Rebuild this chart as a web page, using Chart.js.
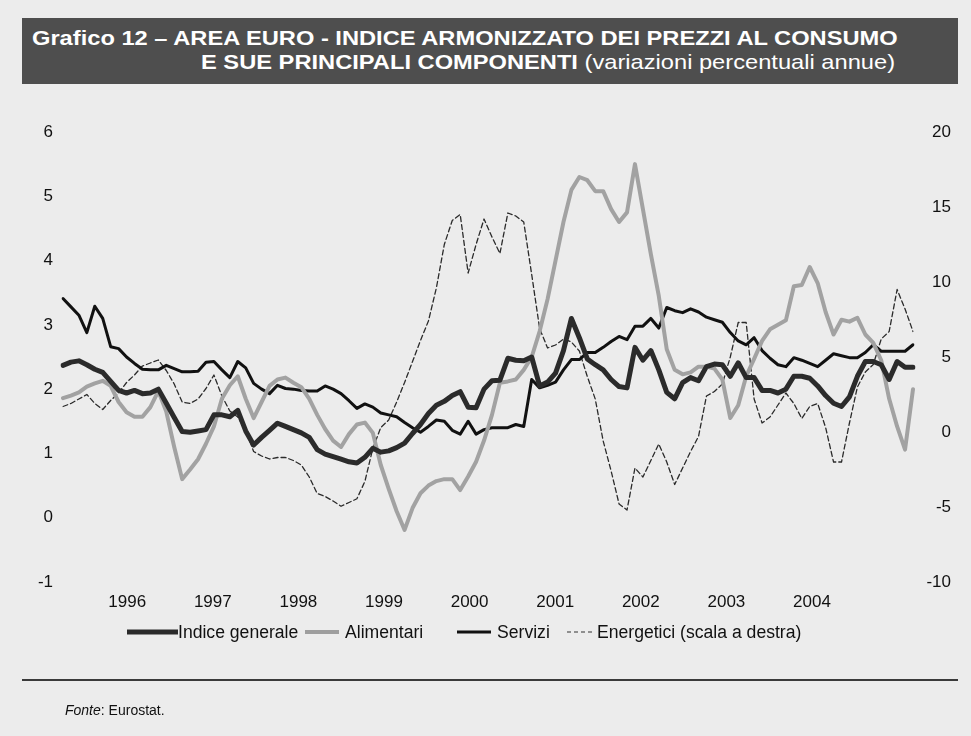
<!DOCTYPE html>
<html><head><meta charset="utf-8">
<script src="https://cdn.jsdelivr.net/npm/chart.js@4.4.1/dist/chart.umd.min.js"></script>
<style>
html,body{margin:0;padding:0;width:971px;height:736px;background:#ececec;overflow:hidden;font-family:"Liberation Sans",Arial,Helvetica,sans-serif;}
#wrap{position:relative;width:971px;height:736px;}
#band{position:absolute;left:22px;top:18px;width:936px;height:66px;background:#4e4e4e;color:#fff;z-index:2;}
.t{position:absolute;white-space:nowrap;font-family:"Liberation Sans",Arial,sans-serif;font-weight:bold;font-size:21px;line-height:22px;transform:scaleX(1.127);transform-origin:0 0;}
.t span{font-weight:normal;}
#c{position:absolute;left:0;top:0;z-index:1;}
.lg{position:absolute;top:622px;height:20px;font-size:17.6px;line-height:20px;color:#111;white-space:nowrap;z-index:2;}
.lg svg{position:absolute;top:0;left:0;}
#rule{position:absolute;left:22px;top:679px;width:936px;height:2px;background:#3a3a3a;z-index:2;}
#src{position:absolute;left:65px;top:702px;font-size:14px;color:#111;z-index:2;}
</style></head>
<body><div id="wrap">
<div id="band">
<div class="t" style="left:10px;top:9px;">Grafico 12 – AREA EURO - INDICE ARMONIZZATO DEI PREZZI AL CONSUMO</div>
<div class="t" style="left:179px;top:33px;">E SUE PRINCIPALI COMPONENTI <span>(variazioni percentuali annue)</span></div>
</div>
<canvas id="c" width="971" height="736"></canvas>
<div class="lg" style="left:127px;"><svg width="51" height="20"><line x1="0" y1="10" x2="51" y2="10" stroke="#2a2a2a" stroke-width="5"/></svg><span style="position:absolute;left:51px;">Indice generale</span></div>
<div class="lg" style="left:305px;"><svg width="34" height="20"><line x1="0" y1="10" x2="34" y2="10" stroke="#9e9e9e" stroke-width="4"/></svg><span style="position:absolute;left:40px;">Alimentari</span></div>
<div class="lg" style="left:457px;"><svg width="34" height="20"><line x1="0" y1="10" x2="34" y2="10" stroke="#111" stroke-width="3"/></svg><span style="position:absolute;left:40px;">Servizi</span></div>
<div class="lg" style="left:567px;"><svg width="26" height="20"><line x1="0" y1="10" x2="26" y2="10" stroke="#333" stroke-width="1.2" stroke-dasharray="4,3"/></svg><span style="position:absolute;left:30px;">Energetici (scala a destra)</span></div>
<div id="rule"></div>
<div id="src"><i>Fonte</i>: Eurostat.</div>
</div>
<script>
// ---- DATA ----
const yearTicks = [1996, 1997, 1998, 1999, 2000, 2001, 2002, 2003, 2004];
const monthNames = ['gen','feb','mar','apr','mag','giu','lug','ago','set','ott','nov','dic'];
const months = [];
yearTicks.forEach(y => monthNames.forEach(m => months.push(m + ' ' + y)));

const indiceGenerale = [
 2.37,2.42,2.44,2.38,2.31,2.26,2.12,1.98,1.94,1.98,1.93,1.94,
 2.00,1.78,1.56,1.34,1.33,1.35,1.37,1.60,1.60,1.57,1.67,1.35,
 1.13,1.25,1.36,1.47,1.42,1.37,1.32,1.25,1.06,0.99,0.95,0.91,
 0.87,0.85,0.94,1.08,1.02,1.04,1.09,1.16,1.31,1.45,1.62,1.75,
 1.81,1.90,1.96,1.72,1.71,2.00,2.13,2.14,2.48,2.45,2.44,2.50,
 2.05,2.11,2.25,2.60,3.10,2.80,2.47,2.38,2.30,2.15,2.04,2.02,
 2.65,2.45,2.60,2.30,1.95,1.85,2.10,2.18,2.13,2.35,2.39,2.38,
 2.20,2.41,2.18,2.18,1.98,1.98,1.94,2.00,2.20,2.20,2.17,2.05,
 1.90,1.78,1.73,1.88,2.20,2.43,2.43,2.38,2.15,2.43,2.34,2.34
];
const alimentari = [
 1.86,1.90,1.95,2.04,2.09,2.13,2.05,1.80,1.64,1.57,1.57,1.72,
 1.97,1.65,1.10,0.60,0.75,0.91,1.15,1.42,1.85,2.06,2.20,1.85,
 1.55,1.80,2.05,2.15,2.18,2.10,2.03,1.85,1.60,1.38,1.20,1.10,
 1.30,1.45,1.48,1.32,0.82,0.45,0.10,-0.19,0.15,0.38,0.50,0.57,
 0.60,0.60,0.43,0.64,0.87,1.20,1.60,2.10,2.12,2.15,2.30,2.50,
 2.90,3.40,4.00,4.60,5.10,5.30,5.25,5.08,5.08,4.80,4.60,4.75,
 5.50,4.80,4.10,3.45,2.62,2.30,2.23,2.26,2.35,2.35,2.32,2.15,
 1.55,1.75,2.20,2.47,2.75,2.93,3.00,3.07,3.60,3.62,3.90,3.65,
 3.20,2.85,3.08,3.05,3.11,2.85,2.72,2.45,1.85,1.42,1.06,2.00
];
const servizi = [
 3.41,3.28,3.15,2.88,3.29,3.10,2.66,2.63,2.50,2.40,2.31,2.30,
 2.30,2.37,2.32,2.27,2.27,2.28,2.42,2.43,2.30,2.18,2.43,2.33,
 2.09,2.00,1.93,2.06,2.01,2.00,1.98,1.97,1.97,2.05,2.00,1.93,
 1.82,1.70,1.77,1.72,1.63,1.60,1.57,1.48,1.40,1.33,1.42,1.52,
 1.50,1.36,1.30,1.50,1.30,1.37,1.40,1.40,1.40,1.45,1.42,2.15,
 2.02,2.06,2.11,2.30,2.46,2.46,2.57,2.57,2.65,2.74,2.82,2.77,
 2.98,2.98,3.10,2.95,3.27,3.22,3.19,3.25,3.20,3.12,3.08,3.04,
 2.88,2.75,2.69,2.80,2.60,2.48,2.38,2.35,2.49,2.45,2.40,2.35,
 2.45,2.55,2.52,2.49,2.49,2.57,2.69,2.59,2.59,2.59,2.59,2.69
];
const energetici = [
 1.7,1.9,2.2,2.5,1.9,1.5,2.1,2.6,3.3,3.8,4.4,4.6,
 4.8,4.1,3.2,2.0,1.9,2.2,2.9,3.8,2.4,1.4,1.0,0.1,
 -1.3,-1.6,-1.8,-1.7,-1.7,-1.9,-2.2,-3.0,-4.1,-4.3,-4.6,-4.95,
 -4.7,-4.45,-3.3,-1.1,0.3,0.8,2.0,3.3,4.7,6.1,7.4,9.6,
 12.5,14.1,14.5,10.6,12.5,14.2,13.0,11.9,14.6,14.4,14.0,10.5,
 6.9,5.6,5.8,6.2,6.0,5.4,3.7,2.2,-0.6,-2.6,-4.8,-5.2,
 -2.4,-3.0,-1.9,-0.8,-2.0,-3.5,-2.4,-1.3,-0.3,2.4,2.7,3.2,
 5.0,7.3,7.3,2.2,0.6,1.0,1.8,2.6,1.9,0.9,1.7,1.9,
 0.3,-2.0,-2.0,0.6,3.0,4.0,4.5,6.2,6.7,9.5,8.2,6.7
];
const leftTicks = {min: -1, max: 6, step: 1};
const rightTicks = {min: -10, max: 20, step: 5};

// ---- CHART ----
const tickFont = {family: '"Liberation Sans", Arial, sans-serif', size: 17};
new Chart(document.getElementById('c'), {
  type: 'line',
  data: {
    labels: months,
    datasets: [
      {label: 'Indice generale', data: indiceGenerale, yAxisID: 'y', borderColor: '#2b2b2b', borderWidth: 5},
      {label: 'Alimentari', data: alimentari, yAxisID: 'y', borderColor: '#a2a2a2', borderWidth: 4},
      {label: 'Servizi', data: servizi, yAxisID: 'y', borderColor: '#111111', borderWidth: 3},
      {label: 'Energetici (scala a destra)', data: energetici, yAxisID: 'y2', borderColor: '#2a2a2a', borderWidth: 1.3, borderDash: [5, 3]}
    ]
  },
  options: {
    responsive: false,
    animation: false,
    events: [],
    elements: {point: {radius: 0}, line: {tension: 0, borderJoinStyle: 'round', borderCapStyle: 'round'}},
    layout: {padding: {left: 0, right: 20, top: 132, bottom: 0}},
    plugins: {legend: {display: false}, tooltip: {enabled: false}, title: {display: false}},
    scales: {
      x: {type: 'category', display: false, offset: false},
      xYears: {
        type: 'linear', position: 'bottom', min: 1995.25, max: 2005.18,
        afterBuildTicks: ax => { ax.ticks = yearTicks.map(v => ({value: v})); },
        afterFit: s => { s.height = 154; },
        grid: {display: false, drawTicks: false}, border: {display: false},
        ticks: {font: tickFont, color: '#111', padding: 10, maxRotation: 0, autoSkip: false, callback: v => String(v)}
      },
      y: {
        position: 'left', min: leftTicks.min, max: leftTicks.max,
        afterFit: s => { s.width = 63; },
        grid: {display: false, drawTicks: false}, border: {display: false},
        ticks: {stepSize: leftTicks.step, font: tickFont, color: '#111', padding: 10}
      },
      y2: {
        position: 'right', min: rightTicks.min, max: rightTicks.max,
        afterFit: s => { s.width = 38; },
        grid: {display: false, drawTicks: false}, border: {display: false},
        ticks: {stepSize: rightTicks.step, font: tickFont, color: '#111', padding: 0, crossAlign: 'far'}
      }
    }
  }
});
</script>
</body></html>
